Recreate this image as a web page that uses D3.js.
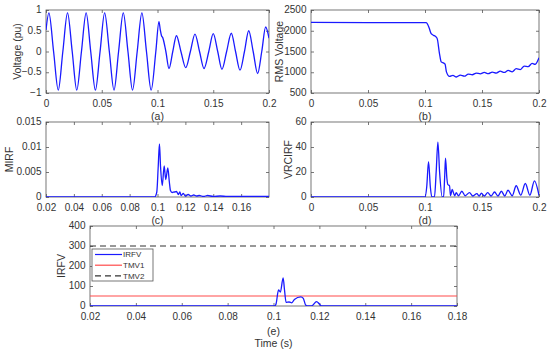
<!DOCTYPE html>
<html>
  <head>
    <meta charset="utf-8" />
    <title>Voltage, RMS, MIRF, VRCIRF and IRFV</title>
    <script src="https://d3js.org/d3.v7.min.js" charset="utf-8"></script>
    <style>
      html,
      body {
        margin: 0;
        padding: 0;
        background-color: white;
        font-family: "Liberation Sans", Arial, sans-serif;
      }
      svg text {
        fill: #333;
      }
    </style>
  </head>

  <body>
    <svg id="chart"></svg>

    <script>
      // ---- data ----
      // (a) voltage waveform: extremes and zero crossings
      const voltTime = [0, 0.0026, 0.0068, 0.011, 0.0151, 0.0193, 0.0235, 0.0276, 0.0318, 0.036, 0.0401, 0.0443, 0.0485, 0.0526, 0.0568, 0.061, 0.0651, 0.0693, 0.0735, 0.0776, 0.0818, 0.086, 0.0901, 0.0943, 0.0985, 0.1013, 0.1025, 0.1036, 0.1046, 0.1075, 0.1103, 0.1137, 0.117, 0.121, 0.1253, 0.1295, 0.1336, 0.1377, 0.1417, 0.146, 0.15, 0.154, 0.1578, 0.162, 0.1662, 0.17, 0.174, 0.178, 0.1818, 0.1858, 0.1898, 0.1935, 0.197, 0.2];
      const voltValue = [0.52, 0.93, 0, -0.93, 0, 0.93, 0, -0.93, 0, 0.93, 0, -0.93, 0, 0.93, 0, -0.93, 0, 0.93, 0, -0.93, 0, 0.93, 0, -0.93, 0, 0.72, 0.52, 0.38, 0.34, 0, -0.41, 0, 0.38, 0, -0.39, 0, 0.42, 0, -0.41, 0, 0.43, 0, -0.43, 0, 0.44, 0, -0.45, 0, 0.5, 0, -0.53, 0, 0.59, 0.32];

      // (b) RMS voltage
      const rmsTime = [0, 0.05, 0.101, 0.1035, 0.1054, 0.1075, 0.109, 0.1107, 0.1127, 0.1142, 0.1165, 0.1176, 0.1188, 0.1215, 0.1245, 0.1275, 0.131, 0.1345, 0.138, 0.1415, 0.145, 0.1485, 0.152, 0.1555, 0.159, 0.1625, 0.166, 0.1695, 0.173, 0.1765, 0.18, 0.1835, 0.187, 0.1905, 0.194, 0.1965, 0.2];
      const rmsValue = [2200, 2195, 2195, 2080, 1930, 1890, 1870, 1810, 1450, 1250, 1220, 1195, 1010, 900, 925, 885, 930, 905, 955, 940, 980, 960, 995, 965, 1005, 980, 1025, 995, 1045, 1010, 1085, 1065, 1150, 1135, 1215, 1190, 1350];

      // (c) MIRF
      const mirfTime = [0.02, 0.098, 0.0995, 0.1005, 0.1014, 0.1022, 0.1034, 0.1048, 0.1059, 0.1074, 0.1085, 0.1093, 0.1105, 0.112, 0.1136, 0.115, 0.116, 0.117, 0.1185, 0.12, 0.122, 0.124, 0.126, 0.128, 0.13, 0.133, 0.136, 0.14, 0.145, 0.15, 0.16, 0.17, 0.18];
      const mirfValue = [0, 0, 0.001, 0.006, 0.0106, 0.006, 0.0023, 0.0062, 0.0035, 0.0058, 0.003, 0.0013, 0.0009, 0.001, 0.0011, 0.0005, 0.001, 0.0003, 0.0007, 0.0002, 0.0005, 0.0002, 0.0004, 0.0002, 0.0003, 0.0001, 0.0003, 0.0001, 0.0002, 0.0001, 0.0001, 0.0001, 0.0001];

      // (d) VRCIRF
      const vrcTime = [0, 0.1, 0.1015, 0.1031, 0.1047, 0.106, 0.1083, 0.1098, 0.1113, 0.1128, 0.1151, 0.1163, 0.1172, 0.118, 0.1192, 0.12, 0.1215, 0.1224, 0.1239, 0.126, 0.1274, 0.1294, 0.1323, 0.1353, 0.139, 0.142, 0.1455, 0.1475, 0.1495, 0.152, 0.155, 0.158, 0.161, 0.164, 0.167, 0.17, 0.1728, 0.1765, 0.18, 0.184, 0.188, 0.192, 0.196, 0.2];
      const vrcValue = [0, 0, 8, 28.3, 8, 0, 0, 20, 43.9, 20, 0, 0, 15, 31, 15, 10, 9, 1, 6, 1, 3.5, 1, 4.6, 1, 3.5, 0.8, 2.7, 0.8, 3, 0.8, 3.5, 0.8, 4, 0.8, 4.6, 0.8, 5.4, 1, 9, 1.5, 10.8, 1.5, 12.9, 1.3];

      // (e) IRFV with thresholds
      const irfvTime = [0.02, 0.1005, 0.1011, 0.1022, 0.103, 0.1042, 0.1048, 0.1055, 0.1068, 0.108, 0.1091, 0.1119, 0.113, 0.114, 0.115, 0.1165, 0.1188, 0.12, 0.121, 0.18];
      const irfvValue = [0, 0, 10, 80, 70, 141, 80, 18, 20, 16, 33, 46, 38, 5, 0, 0, 22, 10, 0, 0];
      const tmv1 = 50;
      const tmv2 = 300;
      const legendNames = ["IRFV", "TMV1", "TMV2"];

      // tick labels
      const abTicksX = [0, 0.05, 0.1, 0.15, 0.2];
      const aTicksY = [-1, -0.5, 0, 0.5, 1];
      const bTicksY = [500, 1000, 1500, 2000, 2500];
      const cTicksX = [0.02, 0.04, 0.06, 0.08, 0.1, 0.12, 0.14, 0.16];
      const cTicksY = [0, 0.005, 0.01, 0.015];
      const dTicksY = [0, 20, 40, 60];
      const eTicksX = [0.02, 0.04, 0.06, 0.08, 0.1, 0.12, 0.14, 0.16, 0.18];
      const eTicksY = [0, 100, 200, 300, 400];

      // ---- drawing ----
      const width = 550;
      const height = 349;
      const blue = "#1a1aff";
      const red = "#ff4a4a";
      const fmt = d3.format("~g");

      const svg = d3
        .select("#chart")
        .attr("width", width)
        .attr("height", height)
        .style("display", "block");

      let clipId = 0;

      // one MATLAB-style axes box: ticks inside on all four sides
      function panel(p) {
        const x = d3.scaleLinear().domain(p.xDomain).range([p.x0, p.x1]);
        const y = d3.scaleLinear().domain(p.yDomain).range([p.y1, p.y0]);
        const g = svg.append("g");

        const axes = [
          [d3.axisBottom(x).tickValues(p.xTicks).tickFormat(fmt), `translate(0,${p.y1})`, 7],
          [d3.axisTop(x).tickValues(p.xTicks).tickFormat(""), `translate(0,${p.y0})`, 4],
          [d3.axisLeft(y).tickValues(p.yTicks).tickFormat(fmt), `translate(${p.x0},0)`, 4.5],
          [d3.axisRight(y).tickValues(p.yTicks).tickFormat(""), `translate(${p.x1},0)`, 4],
        ];
        axes.forEach(([ax, tr, pad], k) => {
          const a = g
            .append("g")
            .attr("transform", tr)
            .call(ax.tickSizeInner(-3).tickSizeOuter(0).tickPadding(pad));
          a.select(".domain").remove();
          a.selectAll("line").attr("stroke", "#555").attr("stroke-width", 0.8);
          a.selectAll("text")
            .attr("font-size", 10)
            .attr("font-family", "'Liberation Sans', Arial, sans-serif")
            .attr("fill", "#333");
          if (k === 2) a.selectAll("text").attr("dy", "0.26em");
        });

        g.append("rect")
          .attr("x", p.x0)
          .attr("y", p.y0)
          .attr("width", p.x1 - p.x0)
          .attr("height", p.y1 - p.y0)
          .attr("fill", "none")
          .attr("stroke", "#555")
          .attr("stroke-width", 0.8);

        const id = "clip" + clipId++;
        svg
          .append("clipPath")
          .attr("id", id)
          .append("rect")
          .attr("x", p.x0)
          .attr("y", p.y0 - 1)
          .attr("width", p.x1 - p.x0)
          .attr("height", p.y1 - p.y0 + 1);
        const plot = g.append("g").attr("clip-path", `url(#${id})`);

        // y label
        g.append("text")
          .attr("transform", `translate(${p.ylabX},${(p.y0 + p.y1) / 2}) rotate(-90)`)
          .attr("text-anchor", "middle")
          .attr("dy", "0.35em")
          .attr("font-size", 10.5)
          .text(p.ylabel);

        // caption under the axes
        g.append("text")
          .attr("x", (p.x0 + p.x1) / 2)
          .attr("y", p.capY)
          .attr("text-anchor", "middle")
          .attr("dy", "0.35em")
          .attr("font-size", 10.5)
          .text(p.caption);

        return { x, y, plot, g };
      }

      function drawLine(ax, xs, ys, color, width, dash) {
        const line = d3
          .line()
          .x((d) => ax.x(d[0]))
          .y((d) => ax.y(d[1]))
          .curve(d3.curveMonotoneX);
        ax.plot
          .append("path")
          .datum(d3.zip(xs, ys))
          .attr("d", line)
          .attr("fill", "none")
          .attr("stroke", color)
          .attr("stroke-width", width)
          .attr("stroke-dasharray", dash || null);
      }

      // (a)
      const pa = panel({
        x0: 46, x1: 269, y0: 10, y1: 93,
        xDomain: [0, 0.2], yDomain: [-1, 1],
        xTicks: abTicksX, yTicks: aTicksY,
        ylabel: "Voltage (pu)", ylabX: 17, caption: "(a)", capY: 116.5,
      });
      drawLine(pa, voltTime, voltValue, blue, 1.3);

      // (b)
      const pb = panel({
        x0: 311, x1: 539, y0: 10, y1: 93,
        xDomain: [0, 0.2], yDomain: [500, 2500],
        xTicks: abTicksX, yTicks: bTicksY,
        ylabel: "RMS Voltage", ylabX: 279, caption: "(b)", capY: 116.5,
      });
      drawLine(pb, rmsTime, rmsValue, blue, 1.3);

      // (c)
      const pc = panel({
        x0: 46, x1: 269, y0: 122, y1: 197,
        xDomain: [0.02, 0.18], yDomain: [0, 0.015],
        xTicks: cTicksX, yTicks: cTicksY,
        ylabel: "MIRF", ylabX: 9.5, caption: "(c)", capY: 220,
      });
      drawLine(pc, mirfTime, mirfValue, blue, 1.3);

      // (d)
      const pd = panel({
        x0: 311, x1: 539, y0: 122, y1: 197,
        xDomain: [0, 0.2], yDomain: [0, 60],
        xTicks: abTicksX, yTicks: dTicksY,
        ylabel: "VRCIRF", ylabX: 288, caption: "(d)", capY: 220,
      });
      drawLine(pd, vrcTime, vrcValue, blue, 1.3);

      // (e)
      const pe = panel({
        x0: 90, x1: 457, y0: 226, y1: 306,
        xDomain: [0.02, 0.18], yDomain: [0, 400],
        xTicks: eTicksX, yTicks: eTicksY,
        ylabel: "IRFV", ylabX: 61, caption: "(e)", capY: 331.5,
      });
      drawLine(pe, [0.02, 0.18], [tmv1, tmv1], red, 1.2);
      drawLine(pe, [0.02, 0.18], [tmv2, tmv2], "#333", 1.1, "6,4");
      drawLine(pe, irfvTime, irfvValue, blue, 1.3);

      pe.g
        .append("text")
        .attr("x", 273.5)
        .attr("y", 343)
        .attr("text-anchor", "middle")
        .attr("dy", "0.35em")
        .attr("font-size", 10.5)
        .text("Time (s)");

      // legend
      const leg = pe.g.append("g").attr("transform", "translate(92,249)");
      leg.append("rect")
        .attr("width", 61)
        .attr("height", 32)
        .attr("fill", "white")
        .attr("stroke", "#555")
        .attr("stroke-width", 0.8);
      const legStyle = [
        { color: blue, dash: null },
        { color: red, dash: null },
        { color: "#333", dash: "6,4" },
      ];
      legendNames.forEach((name, i) => {
        const yy = 5.5 + i * 10.7;
        leg.append("line")
          .attr("x1", 3)
          .attr("x2", 30)
          .attr("y1", yy)
          .attr("y2", yy)
          .attr("stroke", legStyle[i].color)
          .attr("stroke-width", 1.2)
          .attr("stroke-dasharray", legStyle[i].dash);
        leg.append("text")
          .attr("x", 31)
          .attr("y", yy)
          .attr("dy", "0.35em")
          .attr("font-size", 8)
          .text(name);
      });
    </script>
  </body>
</html>
